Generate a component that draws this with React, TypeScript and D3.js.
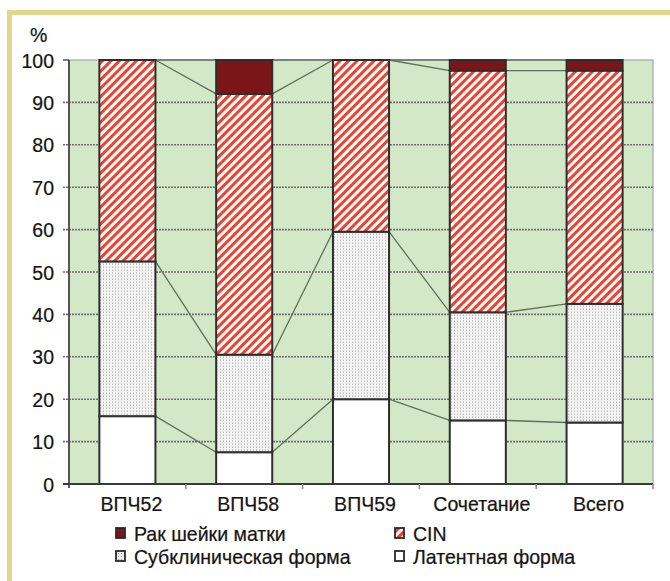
import React from "react";
import * as d3 from "d3";

const categories = ["ВПЧ52", "ВПЧ58", "ВПЧ59", "Сочетание", "Всего"];
const latent = [16, 7.5, 20, 15, 14.5];
const subclinical = [36.5, 23, 39.5, 25.5, 28];
const cin = [47.5, 61.5, 40.5, 57, 55];
const cancer = [0, 8, 0, 2.5, 2.5];
const yTicks = [0, 10, 20, 30, 40, 50, 60, 70, 80, 90, 100];
const seriesNames = ["Латентная форма", "Субклиническая форма", "CIN", "Рак шейки матки"];

const W = 670;
const H = 581;
const FONT = "'Liberation Sans', Arial, sans-serif";
const SX = 0.93;

function T({ x, y, anchor = "start", children }: { x: number; y: number; anchor?: string; children: any }) {
  return (
    <text
      transform={`translate(${x},${y}) scale(${SX},1)`}
      textAnchor={anchor}
      fontSize={21}
      fill="#151515"
      stroke="#151515"
      strokeWidth={0.25}
      fontFamily={FONT}
    >
      {children}
    </text>
  );
}

export default function App() {
  const x = d3.scaleBand<string>().domain(categories).range([69, 653]).paddingInner(0.52).paddingOuter(0.26);
  const xb = d3.scaleBand<string>().domain(categories).range([69, 653]);
  const y = d3.scaleLinear().domain([0, 100]).range([484, 60]);

  const rows = categories.map((c, i) => ({
    cat: c,
    latent: latent[i],
    subclinical: subclinical[i],
    cin: cin[i],
    cancer: cancer[i],
  }));
  const keys = ["latent", "subclinical", "cin", "cancer"];
  const stacked = d3.stack<any>().keys(keys)(rows);
  const fills = ["#ffffff", "url(#dots)", "url(#stripes)", "#7c1517"];

  const bw = x.bandwidth();

  return (
    <svg width={W} height={H} style={{ position: "absolute", left: 0, top: 0 }} fontFamily={FONT}>
      <defs>
        <pattern id="stripes" patternUnits="userSpaceOnUse" width="6" height="6" patternTransform="rotate(45)">
          <rect width="6" height="6" fill="#ffffff" />
          <rect width="3" height="6" fill="#f0412f" />
        </pattern>
        <pattern id="dots" patternUnits="userSpaceOnUse" width="3" height="3">
          <rect width="3" height="3" fill="#f4f4f4" />
          <rect x="1" y="0" width="1" height="1" fill="#bdbdbd" />
          <rect x="1" y="2" width="1" height="1" fill="#d6d6d6" />
        </pattern>
        <pattern id="dotsLeg" patternUnits="userSpaceOnUse" width="3" height="3">
          <rect width="3" height="3" fill="#eeeeee" />
          <rect x="1" y="1" width="1" height="1" fill="#999" />
        </pattern>
      </defs>
      <rect x={0} y={0} width={W} height={H} fill="#ffffff" />
      <rect x={9.5} y={12.5} width={800} height={800} fill="none" stroke="#e2d78b" strokeWidth={5} />

      {/* plot area */}
      <rect x={69} y={60} width={584} height={424} fill="#d3e8c6" stroke="#b4b4b4" strokeWidth={1.5} />

      {/* gridlines */}
      {yTicks.filter((t) => t > 0 && t < 100).map((t) => (
        <line key={t} x1={63} x2={653} y1={y(t)} y2={y(t)} stroke="#6e6e6e" strokeWidth={1.6} strokeDasharray="2,1" />
      ))}
      {[0, 100].map((t) => (
        <line key={"e" + t} x1={63} x2={69} y1={y(t)} y2={y(t)} stroke="#555" strokeWidth={1.5} />
      ))}

      {/* series lines */}
      {stacked.map((s, si) =>
        s.slice(0, -1).map((d, i) => (
          <line
            key={si + "-" + i}
            x1={(x(categories[i]) as number) + bw}
            x2={x(categories[i + 1]) as number}
            y1={y(d[1])}
            y2={y(s[i + 1][1])}
            stroke="#5d715c"
            strokeWidth={1.3}
          />
        ))
      )}

      {/* bars */}
      {stacked.map((s, si) =>
        s.map((d, i) =>
          d[1] - d[0] > 0 ? (
            <rect
              key={si + "b" + i}
              x={x(categories[i]) as number}
              y={y(d[1])}
              width={bw}
              height={y(d[0]) - y(d[1])}
              fill={fills[si]}
              stroke="#2e2e2e"
              strokeWidth={2}
            />
          ) : null
        )
      )}

      {/* axes */}
      <line x1={69} x2={69} y1={60} y2={488} stroke="#4a4a4a" strokeWidth={1.8} />
      <line x1={63} x2={653} y1={484} y2={484} stroke="#3a3a3a" strokeWidth={2} />
      {categories.map((c) => (
        <line key={"t" + c} x1={(xb(c) as number) + xb.bandwidth()} x2={(xb(c) as number) + xb.bandwidth()} y1={484} y2={489} stroke="#888" strokeWidth={1.5} />
      ))}

      {/* y labels */}
      {yTicks.map((t) => (
        <T key={"l" + t} x={54} y={y(t) + 7.5} anchor="end">
          {t}
        </T>
      ))}
      <T x={30} y={42}>%</T>

      {/* x labels */}
      {categories.map((c) => (
        <T key={"x" + c} x={(xb(c) as number) + xb.bandwidth() / 2 + 4} y={511} anchor="middle">
          {c}
        </T>
      ))}

      {/* legend */}
      {[
        { name: seriesNames[3], fill: "#7c1517", lx: 116, ly: 528 },
        { name: seriesNames[2], fill: "url(#stripes)", lx: 395, ly: 528 },
        { name: seriesNames[1], fill: "url(#dotsLeg)", lx: 116, ly: 551 },
        { name: seriesNames[0], fill: "#ffffff", lx: 395, ly: 551 },
      ].map((l) => (
        <g key={l.name}>
          <rect x={l.lx} y={l.ly} width={9} height={10} fill={l.fill} stroke="#2a2a2a" strokeWidth={1.8} />
          <T x={l.lx + 18} y={l.ly + 13}>
            {l.name}
          </T>
        </g>
      ))}
    </svg>
  );
}
